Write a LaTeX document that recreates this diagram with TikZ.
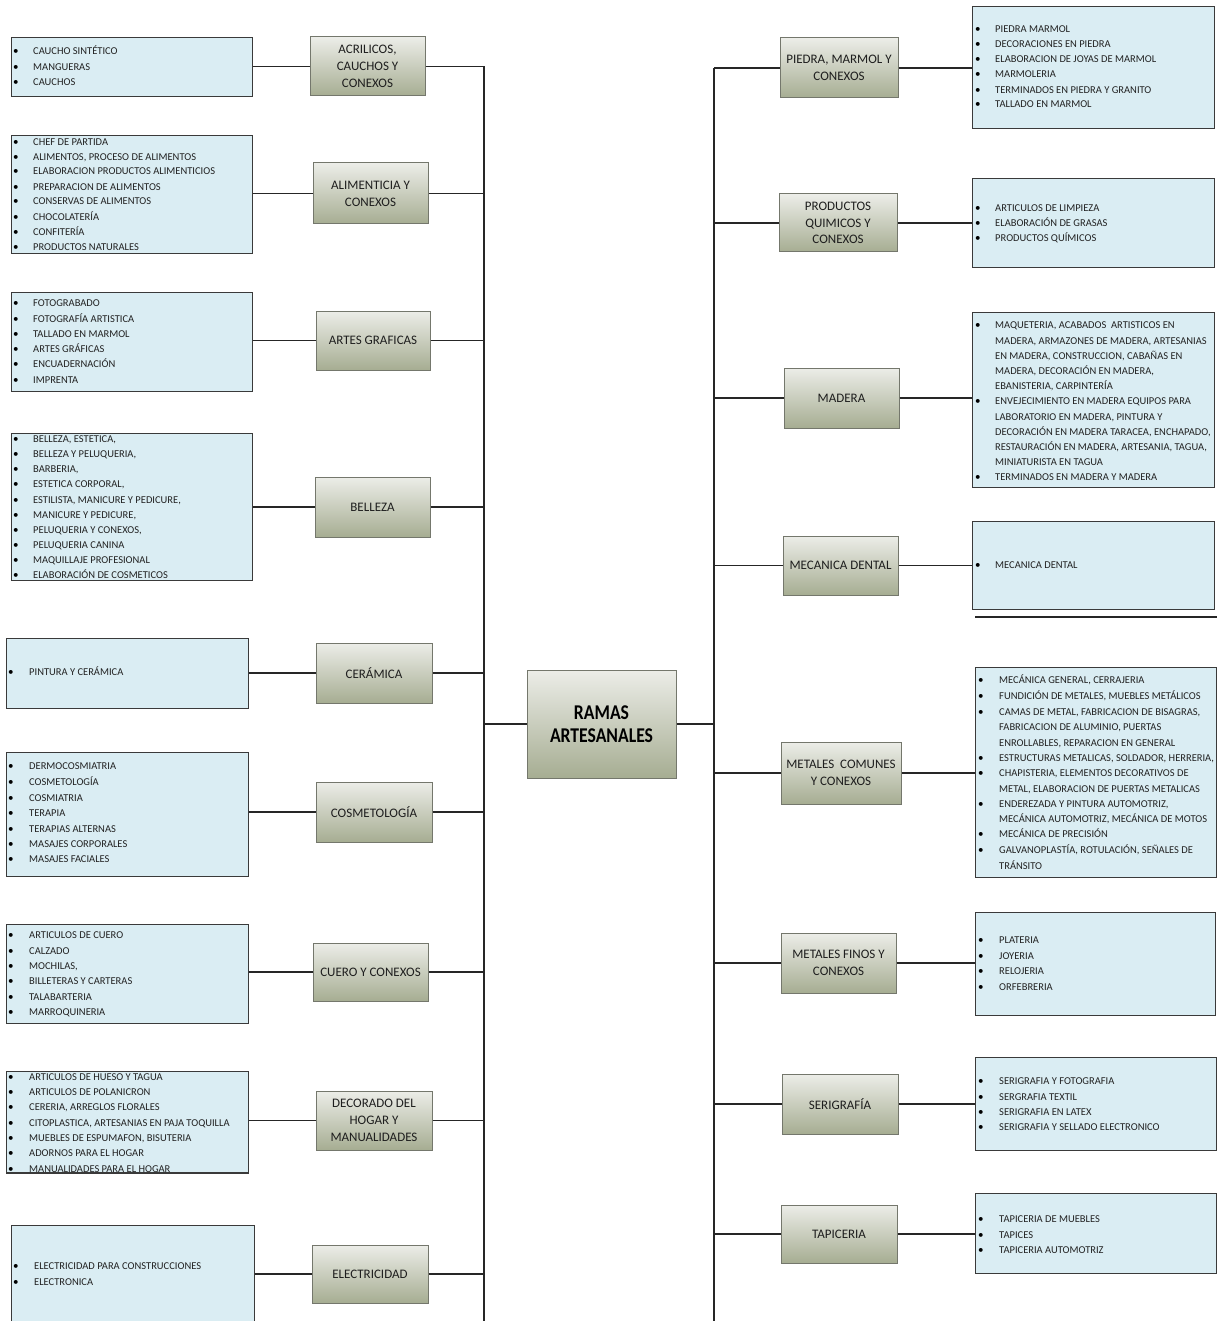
\documentclass[tikz,border=0pt]{standalone}
\usepackage{fontspec}
\setmainfont{Carlito}
\newfontfamily\titlefont[FakeStretch=0.84]{Carlito}
\definecolor{itemfill}{HTML}{DAEDF3}
\definecolor{itemline}{HTML}{3A3A3A}
\definecolor{itemtext}{HTML}{222222}
\definecolor{cattop}{HTML}{ECEDE8}
\definecolor{catbot}{HTML}{A6AD92}
\definecolor{catline}{HTML}{74776C}
\definecolor{cattext}{HTML}{1E1E1E}
\tikzset{
  itembox/.style={draw=itemline, line width=1.3pt, fill=itemfill, inner sep=0pt, anchor=north west},
  catbox/.style={draw=catline, line width=1pt, top color=cattop, bottom color=catbot,
    align=center, inner sep=0pt, text=cattext, font=\fontsize{13}{16.8}\selectfont},
  mainbox/.style={draw=catline, line width=1pt, top color=cattop, bottom color=catbot,
    align=center, inner sep=0pt, text=black, font=\titlefont\bfseries\fontsize{21}{23}\selectfont},
  itemtext/.style={anchor=base west, inner sep=0pt, text=itemtext, font=\fontsize{10.5}{15}\selectfont},
  bulletmark/.style={anchor=base west, inner sep=0pt, text=black, font=\fontsize{11}{15}\selectfont},
  link/.style={draw=black!85, line width=1.1pt},
  trunk/.style={draw=black!85, line width=1.8pt}
}
% list box: name, x1, y1, x2, y2
\newcommand\ibox[5]{\node[itembox, minimum width={(#4-#2)*1pt}, minimum height={(#5-#3)*1pt}] (#1) at (#2,#3) {};}
% category box: name, x1, y1, x2, y2, text
\newcommand\cbox[6]{\node[catbox, minimum width={(#4-#2)*1pt}, minimum height={(#5-#3)*1pt}] (#1) at ({(#2+#4)/2},{(#3+#5)/2}) {#6};}
\newcount\tno
% bulleted line: bullet x, text x, centre y, text
\newcommand\bl[4]{\global\advance\tno by 1
  \node[bulletmark] (b\the\tno) at (#1,{#3+3.6}) {•};
  \node[itemtext] (t\the\tno) at (#2,{#3+3.6}) {#4};}
% continuation line: text x, centre y, text
\newcommand\cl[3]{\global\advance\tno by 1
  \node[itemtext] (t\the\tno) at (#1,{#2+3.6}) {#3};}
\begin{document}
\begin{tikzpicture}[x=1pt, y=-1pt]
\useasboundingbox (0,0) rectangle (1217,1321);
\fill[white] (0,0) rectangle (1217,1321);

\coordinate (lbot) at (484,1321);
\coordinate (rbot) at (714,1321);

% ---------- centre ----------
\node[mainbox, minimum width=149pt, minimum height=108pt] (main) at (601.5,724) {RAMAS\\ARTESANALES};

% ---------- left branches ----------
\cbox{acr}{310}{37}{425}{96}{ACRILICOS,\\CAUCHOS Y\\CONEXOS}
\cbox{ali}{313}{163}{428}{224}{ALIMENTICIA Y\\CONEXOS}
\cbox{art}{316}{311}{430}{370}{ARTES GRAFICAS}
\cbox{bel}{315}{477}{430}{537}{BELLEZA}
\cbox{cer}{316}{643}{432}{703}{CERÁMICA}
\cbox{cos}{316}{782}{432}{842}{COSMETOLOGÍA}
\cbox{cue}{313}{943}{428}{1001}{CUERO Y CONEXOS}
\cbox{dec}{316}{1091}{432}{1150}{DECORADO DEL\\HOGAR Y\\MANUALIDADES}
\cbox{ele}{312}{1245}{428}{1303}{ELECTRICIDAD}

\ibox{acri}{11}{37}{252}{96}
\bl{13}{33}{51}{CAUCHO SINTÉTICO}
\bl{13}{33}{67}{MANGUERAS}
\bl{13}{33}{82}{CAUCHOS}

\ibox{alii}{11}{135}{252}{253}
\bl{13}{33}{142}{CHEF DE PARTIDA}
\bl{13}{33}{157}{ALIMENTOS, PROCESO DE ALIMENTOS}
\bl{13}{33}{171}{ELABORACION PRODUCTOS ALIMENTICIOS}
\bl{13}{33}{187}{PREPARACION DE ALIMENTOS}
\bl{13}{33}{201}{CONSERVAS DE ALIMENTOS}
\bl{13}{33}{217}{CHOCOLATERÍA}
\bl{13}{33}{232}{CONFITERÍA}
\bl{13}{33}{247}{PRODUCTOS NATURALES}

\ibox{arti}{11}{292}{252}{391}
\bl{13}{33}{303}{FOTOGRABADO}
\bl{13}{33}{319}{FOTOGRAFÍA ARTISTICA}
\bl{13}{33}{334}{TALLADO EN MARMOL}
\bl{13}{33}{349}{ARTES GRÁFICAS}
\bl{13}{33}{364}{ENCUADERNACIÓN}
\bl{13}{33}{380}{IMPRENTA}

\ibox{beli}{11}{433}{252}{580}
\bl{13}{33}{439}{BELLEZA, ESTETICA,}
\bl{13}{33}{454}{BELLEZA Y PELUQUERIA,}
\bl{13}{33}{469}{BARBERIA,}
\bl{13}{33}{484}{ESTETICA CORPORAL,}
\bl{13}{33}{500}{ESTILISTA, MANICURE Y PEDICURE,}
\bl{13}{33}{515}{MANICURE Y PEDICURE,}
\bl{13}{33}{530}{PELUQUERIA Y CONEXOS,}
\bl{13}{33}{545}{PELUQUERIA CANINA}
\bl{13}{33}{560}{MAQUILLAJE PROFESIONAL}
\bl{13}{33}{575}{ELABORACIÓN DE COSMETICOS}

\ibox{ceri}{6}{638}{248}{708}
\bl{8}{29}{672}{PINTURA Y CERÁMICA}

\ibox{cosi}{6}{752}{248}{876}
\bl{8}{29}{766}{DERMOCOSMIATRIA}
\bl{8}{29}{782}{COSMETOLOGÍA}
\bl{8}{29}{798}{COSMIATRIA}
\bl{8}{29}{813}{TERAPIA}
\bl{8}{29}{829}{TERAPIAS ALTERNAS}
\bl{8}{29}{844}{MASAJES CORPORALES}
\bl{8}{29}{859}{MASAJES FACIALES}

\ibox{cuei}{6}{924}{248}{1023}
\bl{8}{29}{935}{ARTICULOS DE CUERO}
\bl{8}{29}{951}{CALZADO}
\bl{8}{29}{966}{MOCHILAS,}
\bl{8}{29}{981}{BILLETERAS Y CARTERAS}
\bl{8}{29}{997}{TALABARTERIA}
\bl{8}{29}{1012}{MARROQUINERIA}

\ibox{deci}{6}{1071}{248}{1172}
\begin{scope}
\clip (0,1060) rectangle (260,1171.5);
\bl{8}{29}{1077}{ARTICULOS DE HUESO Y TAGUA}
\bl{8}{29}{1092}{ARTICULOS DE POLANICRON}
\bl{8}{29}{1107}{CERERIA, ARREGLOS FLORALES}
\bl{8}{29}{1123}{CITOPLASTICA, ARTESANIAS EN PAJA TOQUILLA}
\bl{8}{29}{1138}{MUEBLES DE ESPUMAFON, BISUTERIA}
\bl{8}{29}{1153}{ADORNOS PARA EL HOGAR}
\bl{8}{29}{1169}{MANUALIDADES PARA EL HOGAR}
\end{scope}
\draw[itemline, line width=1.3pt] (deci.south west) -- (deci.south east);

\ibox{elei}{11}{1225}{254}{1340}
\bl{13}{34}{1266}{ELECTRICIDAD PARA CONSTRUCCIONES}
\bl{13}{34}{1282}{ELECTRONICA}

% left connectors and trunk
\foreach \c in {acr,ali,art,bel,cer,cos,cue,dec,ele}{
  \draw[link] (\c i.east |- \c.west) -- (\c.west);
  \draw[link] (\c.east) -- (\c.east -| lbot);
}
\draw[trunk] (acr.east -| lbot) -- (lbot);
\draw[trunk] (main.west) -- (main.west -| lbot);

% ---------- right branches ----------
\cbox{pie}{780}{38}{898}{98}{PIEDRA, MARMOL Y\\CONEXOS}
\cbox{qui}{779}{194}{897}{252}{PRODUCTOS\\QUIMICOS Y\\CONEXOS}
\cbox{mad}{784}{368}{899}{428}{MADERA}
\cbox{den}{783}{536}{898}{595}{MECANICA DENTAL}
\cbox{met}{781}{742}{901}{804}{METALES\ \ COMUNES\\Y CONEXOS}
\cbox{fin}{781}{933}{896}{993}{METALES FINOS Y\\CONEXOS}
\cbox{ser}{782}{1074}{898}{1134}{SERIGRAFÍA}
\cbox{tap}{781}{1205}{897}{1263}{TAPICERIA}

\ibox{piei}{972}{6}{1214}{128}
\bl{975}{995}{29}{PIEDRA MARMOL}
\bl{975}{995}{44}{DECORACIONES EN PIEDRA}
\bl{975}{995}{59}{ELABORACION DE JOYAS DE MARMOL}
\bl{975}{995}{74}{MARMOLERIA}
\bl{975}{995}{90}{TERMINADOS EN PIEDRA Y GRANITO}
\bl{975}{995}{104}{TALLADO EN MARMOL}

\ibox{quii}{972}{178}{1214}{267}
\bl{975}{995}{208}{ARTICULOS DE LIMPIEZA}
\bl{975}{995}{223}{ELABORACIÓN DE GRASAS}
\bl{975}{995}{238}{PRODUCTOS QUÍMICOS}

\ibox{madi}{972}{312}{1214}{487}
\bl{975}{995}{325}{MAQUETERIA, ACABADOS\ \ ARTISTICOS EN}
\cl{995}{341}{MADERA, ARMAZONES DE MADERA, ARTESANIAS}
\cl{995}{356}{EN MADERA, CONSTRUCCION, CABAÑAS EN}
\cl{995}{371}{MADERA, DECORACIÓN EN MADERA,}
\cl{995}{386}{EBANISTERIA, CARPINTERÍA}
\bl{975}{995}{401}{ENVEJECIMIENTO EN MADERA EQUIPOS PARA}
\cl{995}{417}{LABORATORIO EN MADERA, PINTURA Y}
\cl{995}{432}{DECORACIÓN EN MADERA TARACEA, ENCHAPADO,}
\cl{995}{447}{RESTAURACIÓN EN MADERA, ARTESANIA, TAGUA,}
\cl{995}{462}{MINIATURISTA EN TAGUA}
\bl{975}{995}{477}{TERMINADOS EN MADERA Y MADERA}

\ibox{deni}{972}{521}{1214}{609}
\bl{975}{995}{565}{MECANICA DENTAL}
\coordinate (sepa) at (975,617);
\coordinate (sepb) at (1217,617);
\draw[link] (sepa) -- (sepb);

\ibox{meti}{975}{667}{1216}{877}
\bl{978}{999}{680}{MECÁNICA GENERAL, CERRAJERIA}
\bl{978}{999}{696}{FUNDICIÓN DE METALES, MUEBLES METÁLICOS}
\bl{978}{999}{712}{CAMAS DE METAL, FABRICACION DE BISAGRAS,}
\cl{999}{727}{FABRICACION DE ALUMINIO, PUERTAS}
\cl{999}{743}{ENROLLABLES, REPARACION EN GENERAL}
\bl{978}{999}{758}{ESTRUCTURAS METALICAS, SOLDADOR, HERRERIA,}
\bl{978}{999}{773}{CHAPISTERIA, ELEMENTOS DECORATIVOS DE}
\cl{999}{789}{METAL, ELABORACION DE PUERTAS METALICAS}
\bl{978}{999}{804}{ENDEREZADA Y PINTURA AUTOMOTRIZ,}
\cl{999}{819}{MECÁNICA AUTOMOTRIZ, MECÁNICA DE MOTOS}
\bl{978}{999}{834}{MECÁNICA DE PRECISIÓN}
\bl{978}{999}{850}{GALVANOPLASTÍA, ROTULACIÓN, SEÑALES DE}
\cl{999}{866}{TRÁNSITO}

\ibox{fini}{975}{912}{1215}{1015}
\bl{978}{999}{940}{PLATERIA}
\bl{978}{999}{956}{JOYERIA}
\bl{978}{999}{971}{RELOJERIA}
\bl{978}{999}{987}{ORFEBRERIA}

\ibox{seri}{975}{1057}{1216}{1150}
\bl{978}{999}{1081}{SERIGRAFIA Y FOTOGRAFIA}
\bl{978}{999}{1097}{SERGRAFIA TEXTIL}
\bl{978}{999}{1112}{SERIGRAFIA EN LATEX}
\bl{978}{999}{1127}{SERIGRAFIA Y SELLADO ELECTRONICO}

\ibox{tapi}{975}{1193}{1216}{1273}
\bl{978}{999}{1219}{TAPICERIA DE MUEBLES}
\bl{978}{999}{1235}{TAPICES}
\bl{978}{999}{1250}{TAPICERIA AUTOMOTRIZ}

% right connectors and trunk
\foreach \c in {pie,qui,mad,den,met,fin,ser,tap}{
  \draw[link] (\c.west -| rbot) -- (\c.west);
  \draw[link] (\c.east) -- (\c i.west |- \c.east);
}
\draw[trunk] (pie.west -| rbot) -- (rbot);
\draw[trunk] (main.east) -- (main.east -| rbot);
\end{tikzpicture}
\end{document}
